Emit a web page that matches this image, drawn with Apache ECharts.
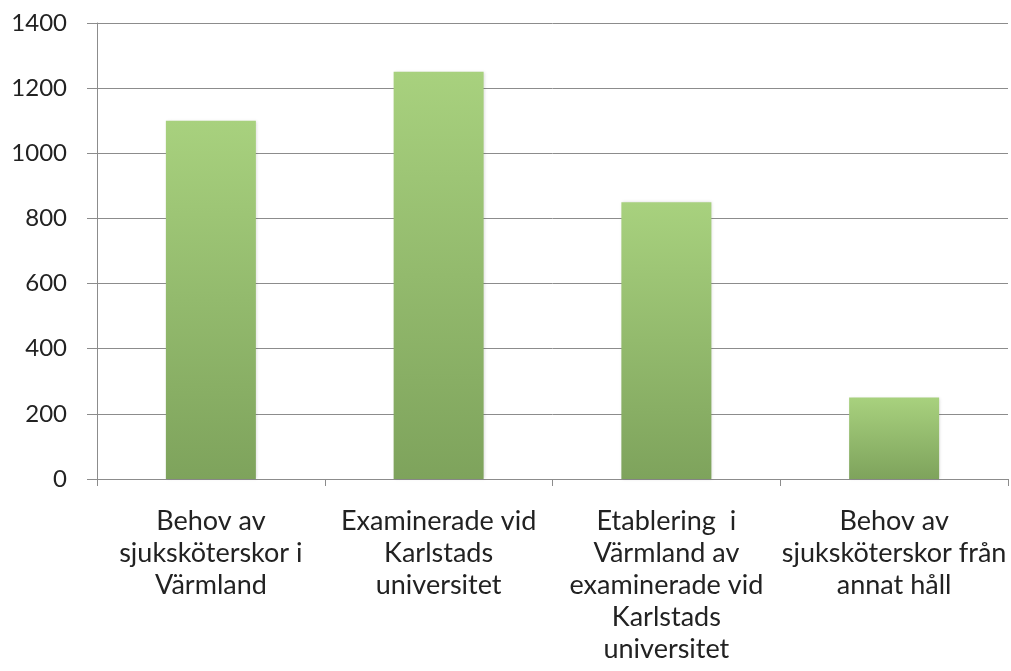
<!DOCTYPE html>
<html>
<head>
<meta charset="utf-8">
<script src="https://cdn.jsdelivr.net/npm/echarts@6/dist/echarts.min.js"></script>
<style>
  html, body { margin: 0; padding: 0; background: #fff; }
  #chart { width: 1011px; height: 671px; }
</style>
</head>
<body>
<div id="chart"></div>
<script>
// kategorier och värden
const categories = [
  'Behov av\nsjuksköterskor i\nVärmland',
  'Examinerade vid\nKarlstads\nuniversitet',
  'Etablering  i\nVärmland av\nexaminerade vid\nKarlstads\nuniversitet',
  'Behov av\nsjuksköterskor från\nannat håll'
]
const values = [1100, 1250, 850, 250]
const yTicks = [0, 200, 400, 600, 800, 1000, 1200, 1400]

const chart = echarts.init(document.getElementById('chart'))
const font = 'Lato, "Open Sans", sans-serif'

chart.setOption({
  animation: false,
  grid: { left: 97, right: 3, top: 23, bottom: 192 },
  xAxis: {
    type: 'category',
    data: categories,
    axisLine: { lineStyle: { color: '#8c8c8c', width: 1 } },
    axisTick: { show: true, length: 7, lineStyle: { color: '#8c8c8c' } },
    axisLabel: {
      interval: 0,
      margin: 26,
      color: '#222',
      fontSize: 27,
      lineHeight: 32,
      fontFamily: font
    }
  },
  yAxis: {
    type: 'value',
    min: yTicks[0],
    max: yTicks[yTicks.length - 1],
    interval: 200,
    axisLine: { show: true, lineStyle: { color: '#8c8c8c' } },
    axisTick: { show: true, length: 10, lineStyle: { color: '#8c8c8c' } },
    splitLine: { lineStyle: { color: '#8c8c8c', width: 1 } },
    axisLabel: {
      margin: 30,
      color: '#222',
      fontSize: 24,
      fontFamily: font,
      formatter: v => String(v)
    }
  },
  series: [{
    type: 'bar',
    data: values,
    barWidth: 90,
    itemStyle: {
      color: new echarts.graphic.LinearGradient(0, 0, 0, 1, [
        { offset: 0, color: '#a8d17e' },
        { offset: 1, color: '#7ea35c' }
      ]),
      shadowColor: 'rgba(0,0,0,0.15)',
      shadowBlur: 3,
      shadowOffsetX: 1
    }
  }]
})
</script>
</body>
</html>
